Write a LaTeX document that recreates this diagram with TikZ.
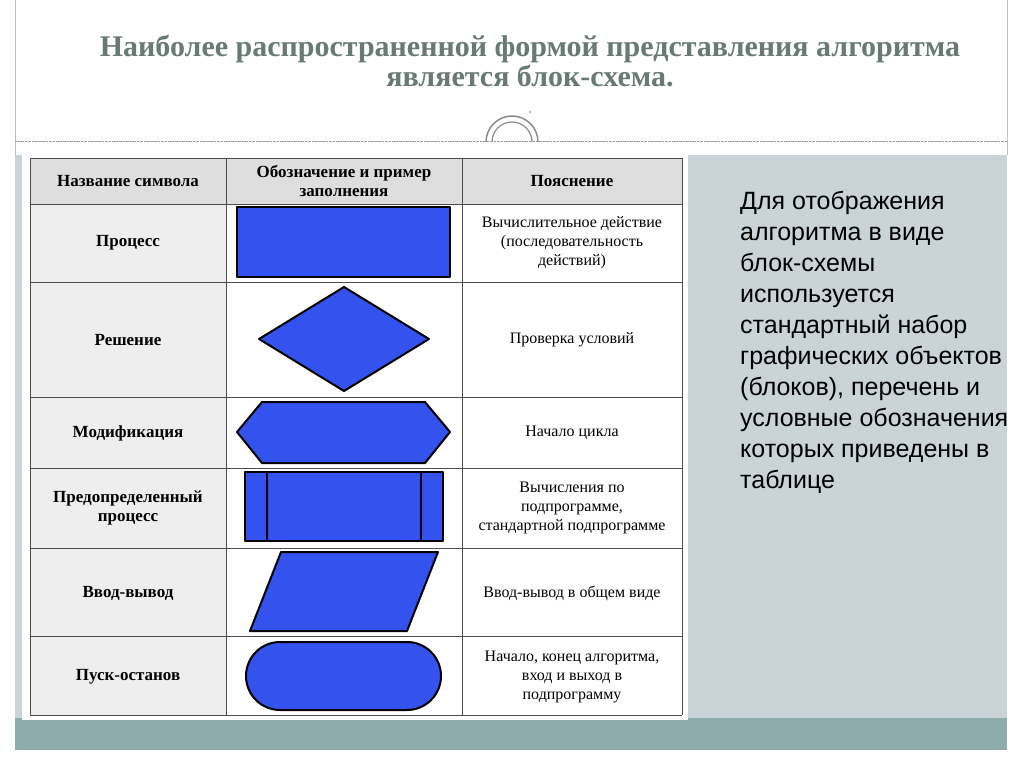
\documentclass[tikz,border=0pt]{standalone}
\usepackage{fontspec}
\setmainfont{Liberation Serif}
\setsansfont{Liberation Sans}
\usetikzlibrary{positioning}
\definecolor{panel}{RGB}{201,211,216}
\definecolor{stripe}{RGB}{143,172,172}
\definecolor{titlec}{RGB}{105,122,118}
\definecolor{shapeblue}{RGB}{52,82,238}
\definecolor{headgray}{RGB}{222,222,222}
\definecolor{cellgray}{RGB}{238,238,238}
\begin{document}
\begin{tikzpicture}[x=1pt,y=-1pt]
	\tikzstyle{shp}=[draw=black, fill=shapeblue, line width=2pt, line join=round]
	\tikzstyle{symname}=[font=\fontsize{17}{19}\selectfont\bfseries, align=center]
	\tikzstyle{notetext}=[font=\fontsize{16}{19}\selectfont, align=center]
	\tikzstyle{tabline}=[draw=black!70, line width=0.8pt]
	\useasboundingbox (0,0) rectangle (1024,767);
	\fill[white] (0,0) rectangle (1024,767);
	\draw[black!25] (15,0) -- (15,155) (1007,0) -- (1007,155);
	\draw[black!40, densely dotted] (15,141) -- (1007,141);
	\draw[black!45, line width=1.5pt] (512,142) ++(-26,0) arc (180:360:26);
	\draw[black!45, line width=1.2pt] (512,142) ++(-20,0) arc (180:360:20);
	\fill[black!45] (530,112) circle (1);
	\fill[panel] (15,155) rectangle (1007,718);
	\fill[stripe] (15,718) rectangle (1007,750);
	\fill[white] (22,155) rectangle (688,720);
	% title
	\node[titlec, font=\fontsize{30}{30}\selectfont\bfseries, align=center] (title) at (530,61)
		{Наиболее распространенной формой представления алгоритма\\является блок-схема.};
	% table
	\fill[headgray] (30,158) rectangle (682,204);
	\fill[cellgray] (30,204) rectangle (226,715);
	\foreach \y in {158,204,282,397,468,548,636,715}
		\draw[tabline] (30,\y) -- (682,\y);
	\foreach \x in {30,226,462,682}
		\draw[tabline] (\x,158) -- (\x,715);
	\node[symname] (h1) at (128,181) {Название символа};
	\node[symname] (h2) at (344,181) {Обозначение и пример\\заполнения};
	\node[symname] (h3) at (572,181) {Пояснение};
	\node[symname] (n1) at (128,243) {Процесс};
	\node[symname] (n2) at (128,340) {Решение};
	\node[symname] (n3) at (128,433) {Модификация};
	\node[symname] (n4) at (128,508) {Предопределенный\\процесс};
	\node[symname] (n5) at (128,593) {Ввод-вывод};
	\node[symname] (n6) at (128,677) {Пуск-останов};
	\node[notetext] (e1) at (572,243) {Вычислительное действие\\(последовательность\\действий)};
	\node[notetext] (e2) at (572,340) {Проверка условий};
	\node[notetext] (e3) at (572,433) {Начало цикла};
	\node[notetext] (e4) at (572,508) {Вычисления по\\подпрограмме,\\стандартной подпрограмме};
	\node[notetext] (e5) at (572,593) {Ввод-вывод в общем виде};
	\node[notetext] (e6) at (572,677) {Начало, конец алгоритма,\\вход и выход в\\подпрограмму};
	% shapes
	\draw[shp] (237,207) rectangle (450,277);
	\draw[shp] (259,339) -- (344,287) -- (429,339) -- (344,391) -- cycle;
	\draw[shp] (237,432) -- (262,402) -- (425,402) -- (450,432) -- (425,463) -- (262,463) -- cycle;
	\draw[shp] (245,472) rectangle (443,541);
	\draw[shp] (267,472) -- (267,541) (421,472) -- (421,541);
	\draw[shp] (250,631) -- (281,552) -- (438,552) -- (407,631) -- cycle;
	\draw[shp, rounded corners=34] (246,642) rectangle (441,710);
	% right text
	\node[font=\sffamily\fontsize{25}{31}\selectfont, align=left, anchor=north west, inner sep=0] (side) at (740,191)
		{Для отображения\\алгоритма в виде\\блок-схемы\\используется\\стандартный набор\\графических объектов\\(блоков), перечень и\\условные обозначения\\которых приведены в\\таблице};
\end{tikzpicture}
\end{document}
